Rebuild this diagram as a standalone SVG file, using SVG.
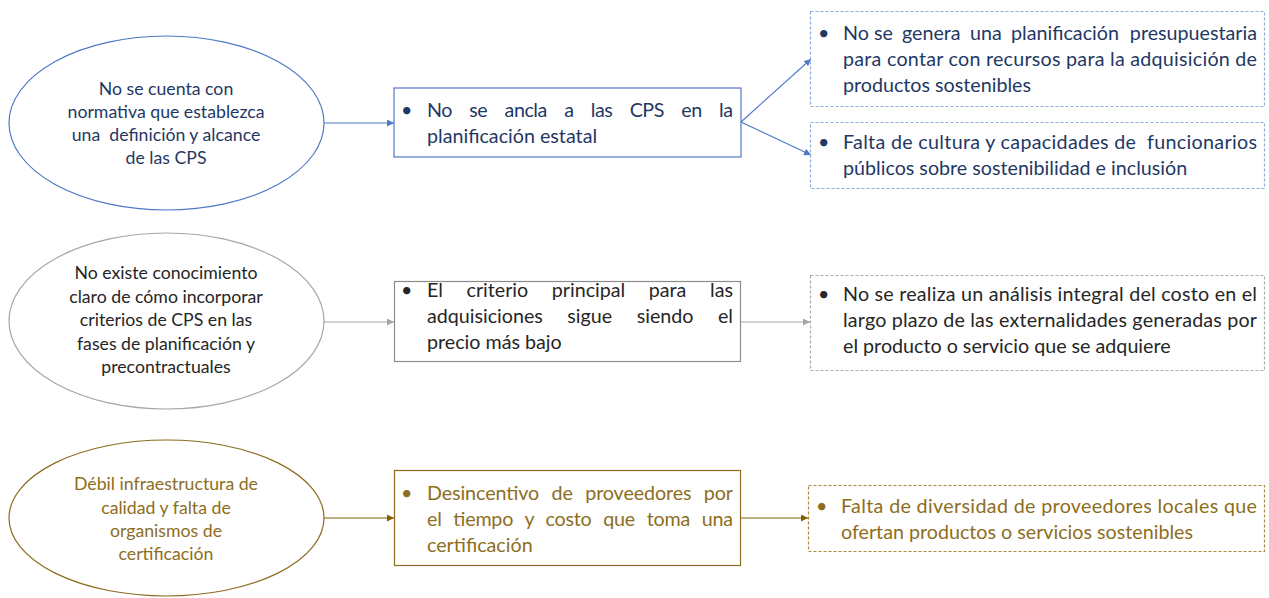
<svg xmlns="http://www.w3.org/2000/svg" width="1269" height="598" viewBox="0 0 1269 598">
<style>
text{font-family:Lato,"Noto Sans","Liberation Sans",sans-serif;font-size:19.7px}
.c{text-anchor:middle;font-size:17.7px}
.e{text-anchor:end}
.p{white-space:pre}
.b1{fill:#1F3864}.b2{fill:#262626}.b3{fill:#8D6E21}
.s1{fill:none;stroke:#4F78C6;stroke-width:1.2}
.d1{fill:none;stroke:#8FAADC;stroke-width:1.2;stroke-dasharray:3 2}
.s2e{fill:none;stroke:#A6A6A6;stroke-width:1.2}
.s2{fill:none;stroke:#8C8C8C;stroke-width:1.2}
.d2{fill:none;stroke:#ABABAB;stroke-width:1.2;stroke-dasharray:3 2}
.s3{fill:none;stroke:#8B6B1E;stroke-width:1.2}
.d3{fill:none;stroke:#A88A3E;stroke-width:1.2;stroke-dasharray:3 2}
.a1{stroke:#4F78C6;stroke-width:1.1;fill:none;marker-end:url(#m1)}
.a2{stroke:#A6A6A6;stroke-width:1.1;fill:none;marker-end:url(#m2)}
.a3{stroke:#7F6000;stroke-width:1.1;fill:none;marker-end:url(#m3)}
</style>
<defs>
<marker id="m1" viewBox="0 0 10 10" refX="10" refY="5" markerWidth="7" markerHeight="7" markerUnits="userSpaceOnUse" orient="auto"><path d="M0,0L10,5L0,10z" fill="#4F78C6"/></marker>
<marker id="m2" viewBox="0 0 10 10" refX="10" refY="5" markerWidth="7" markerHeight="7" markerUnits="userSpaceOnUse" orient="auto"><path d="M0,0L10,5L0,10z" fill="#A6A6A6"/></marker>
<marker id="m3" viewBox="0 0 10 10" refX="10" refY="5" markerWidth="7" markerHeight="7" markerUnits="userSpaceOnUse" orient="auto"><path d="M0,0L10,5L0,10z" fill="#7F6000"/></marker>
</defs>
<rect width="1269" height="598" fill="#FFFFFF"/>

<g id="connectors">
<path class="a1" d="M324,123H394"/>
<path class="a1" d="M741,122L811,59"/>
<path class="a1" d="M741,122L811,155"/>
<path class="a2" d="M324,322H394"/>
<path class="a2" d="M741,322H810"/>
<path class="a3" d="M324,518H394"/>
<path class="a3" d="M741,518H808"/>
</g>

<g id="cause1">
<ellipse class="s1" cx="166.5" cy="123" rx="157.5" ry="87"/>
<text class="c b1" x="166" y="95">No se cuenta con</text>
<text class="c b1" x="166" y="118">normativa que establezca</text>
<text class="c b1 p" x="166" y="141">una  definición y alcance</text>
<text class="c b1" x="166" y="164">de las CPS</text>
</g>

<g id="effect1">
<rect class="s1" x="394" y="88" width="347" height="69"/>
<text class="b1" x="401" y="117">•</text>
<text class="b1" x="427" y="117" word-spacing="12.8" textLength="306" lengthAdjust="spacing">No se ancla a las CPS en la</text>
<text class="b1" x="427" y="143">planificación estatal</text>
</g>

<g id="result1a">
<rect class="d1" x="810.5" y="11.5" width="454" height="95"/>
<text class="b1" x="818" y="40">•</text>
<text class="b1" y="40"><tspan x="843">No</tspan><tspan x="874">se</tspan><tspan x="902">genera</tspan><tspan x="970">una</tspan><tspan x="1011">planificación</tspan></text>
<text class="b1 e" x="1257" y="40">presupuestaria</text>
<text class="b1" x="843" y="66" textLength="414" lengthAdjust="spacing">para contar con recursos para la adquisición de</text>
<text class="b1" x="843" y="92">productos sostenibles</text>
</g>

<g id="result1b">
<rect class="d1" x="810.5" y="122.5" width="454" height="66"/>
<text class="b1" x="818" y="149">•</text>
<text class="b1 p" x="843" y="149" textLength="414" lengthAdjust="spacing">Falta de cultura y capacidades de  funcionarios</text>
<text class="b1" x="843" y="175">públicos sobre sostenibilidad e inclusión</text>
</g>

<g id="cause2">
<ellipse class="s2e" cx="166.5" cy="321" rx="157.5" ry="88"/>
<text class="c b2" x="166" y="279">No existe conocimiento</text>
<text class="c b2" x="166" y="302.5">claro de cómo incorporar</text>
<text class="c b2" x="166" y="326">criterios de CPS en las</text>
<text class="c b2" x="166" y="349.5">fases de planificación y</text>
<text class="c b2" x="166" y="373">precontractuales</text>
</g>

<g id="effect2">
<rect class="s2" x="394.5" y="281.5" width="346" height="80"/>
<text class="b2" x="401" y="297">•</text>
<text class="b2" x="427" y="297" word-spacing="18.7" textLength="306" lengthAdjust="spacing">El criterio principal para las</text>
<text class="b2" x="427" y="323" word-spacing="19.5" textLength="306" lengthAdjust="spacing">adquisiciones sigue siendo el</text>
<text class="b2" x="427" y="349">precio más bajo</text>
</g>

<g id="result2">
<rect class="d2" x="810.5" y="275.5" width="454" height="95"/>
<text class="b2" x="818" y="301">•</text>
<text class="b2" x="843" y="301" textLength="414" lengthAdjust="spacing">No se realiza un análisis integral del costo en el</text>
<text class="b2" x="843" y="327" textLength="414" lengthAdjust="spacing">largo plazo de las externalidades generadas por</text>
<text class="b2" x="843" y="353">el producto o servicio que se adquiere</text>
</g>

<g id="cause3">
<ellipse class="s3" cx="166.5" cy="518" rx="157.5" ry="78"/>
<text class="c b3" x="166" y="490">Débil infraestructura de</text>
<text class="c b3" x="166" y="514">calidad y falta de</text>
<text class="c b3" x="166" y="537">organismos de</text>
<text class="c b3" x="166" y="560">certificación</text>
</g>

<g id="effect3">
<rect class="s3" x="394.5" y="470.5" width="346" height="95"/>
<text class="b3" x="401" y="500">•</text>
<text class="b3" x="427" y="500" word-spacing="7.5" textLength="306" lengthAdjust="spacing">Desincentivo de proveedores por</text>
<text class="b3" x="427" y="526" word-spacing="7" textLength="306" lengthAdjust="spacing">el tiempo y costo que toma una</text>
<text class="b3" x="427" y="552">certificación</text>
</g>

<g id="result3">
<rect class="d3" x="808.5" y="485.5" width="456" height="66"/>
<text class="b3" x="816" y="513">•</text>
<text class="b3" x="841" y="513" textLength="416" lengthAdjust="spacing">Falta de diversidad de proveedores locales que</text>
<text class="b3" x="841" y="539">ofertan productos o servicios sostenibles</text>
</g>
</svg>
